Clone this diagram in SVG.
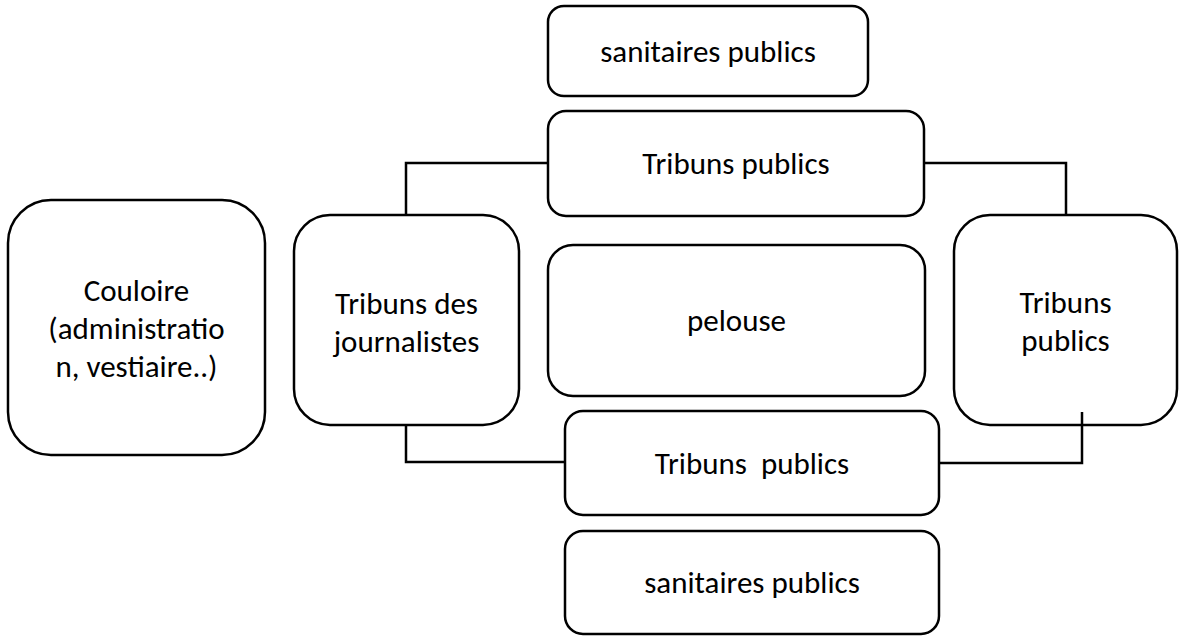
<svg xmlns="http://www.w3.org/2000/svg" width="1179" height="636" viewBox="0 0 1179 636">
<style>
.box{fill:#fff;stroke:#000;stroke-width:2.5}
.lbl{font-family:Carlito,Lato,"Liberation Sans",sans-serif;font-size:31px;fill:#000;text-anchor:middle}
.con{fill:none;stroke:#000;stroke-width:2.5}
</style>
<rect width="1179" height="636" fill="#fff"/>
<g id="couloire">
<rect class="box" x="8" y="200" width="257" height="255" rx="43"/>
<text class="lbl" x="136.5" y="301">Couloire</text>
<text class="lbl" x="136.5" y="339">(administratio</text>
<text class="lbl" x="136.5" y="377">n, vestiaire..)</text>
</g>
<g id="sanitaires-haut">
<rect class="box" x="548" y="6" width="320" height="90" rx="16"/>
<text class="lbl" x="708" y="62">sanitaires publics</text>
</g>
<g id="tribuns-haut">
<rect class="box" x="548" y="111" width="376" height="105" rx="18"/>
<text class="lbl" x="736" y="174">Tribuns publics</text>
</g>
<g id="journalistes">
<rect class="box" x="294" y="215" width="225" height="210" rx="36"/>
<text class="lbl" x="406.5" y="314">Tribuns des</text>
<text class="lbl" x="406.5" y="352">journalistes</text>
</g>
<g id="pelouse">
<rect class="box" x="548" y="245" width="377" height="151" rx="25"/>
<text class="lbl" x="736.5" y="331">pelouse</text>
</g>
<g id="tribuns-droite">
<rect class="box" x="954" y="215" width="223" height="210" rx="36"/>
<text class="lbl" x="1065.5" y="313">Tribuns</text>
<text class="lbl" x="1065.5" y="351">publics</text>
</g>
<g id="tribuns-bas">
<rect class="box" x="565" y="411" width="374" height="104" rx="18"/>
<text class="lbl" x="752" y="474" xml:space="preserve">Tribuns  publics</text>
</g>
<g id="sanitaires-bas">
<rect class="box" x="565" y="531" width="374" height="103" rx="18"/>
<text class="lbl" x="752" y="593">sanitaires publics</text>
</g>
<g id="connectors">
<path class="con" d="M548 163 H406 V215"/>
<path class="con" d="M924 163 H1066 V215"/>
<path class="con" d="M406 425 V462 H565"/>
<path class="con" d="M1082 412 V463 H939"/>
</g>
</svg>
